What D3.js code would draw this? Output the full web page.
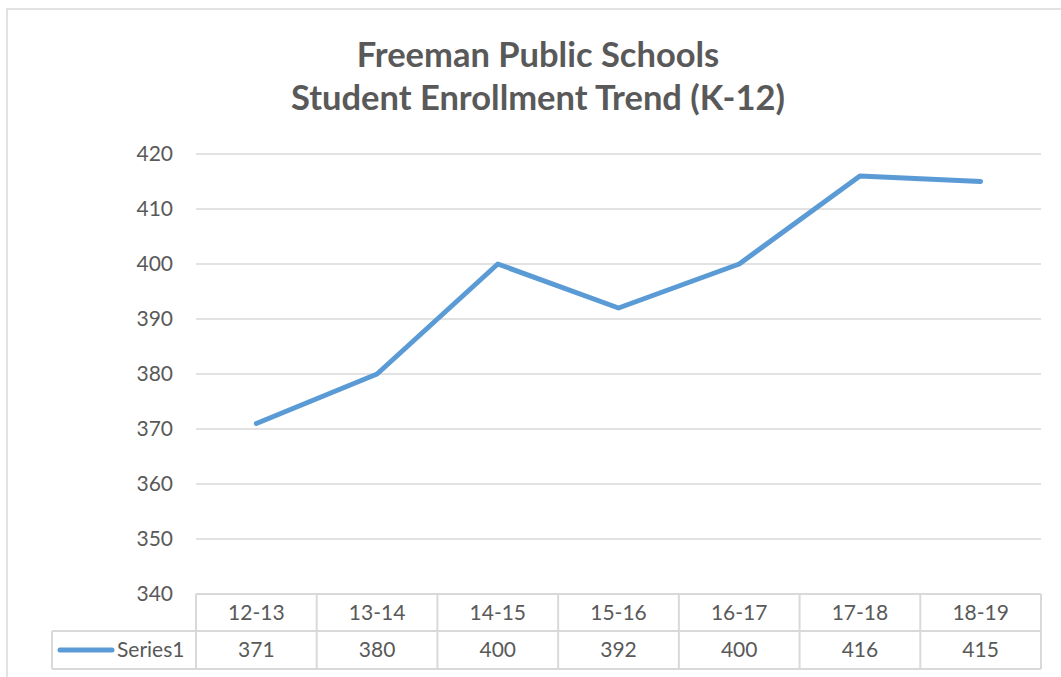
<!DOCTYPE html>
<html>
<head>
<meta charset="utf-8">
<title>Freeman Public Schools</title>
<style>
body { margin: 0; background: #fff; }
text { font-family: Lato, "Open Sans", sans-serif; fill: #595959; }
.grid line { stroke: #d9d9d9; stroke-width: 1.5; }
.tbl line { stroke: #d9d9d9; stroke-width: 2; }
</style>
</head>
<body>
<script src="https://cdn.jsdelivr.net/npm/d3@7"></script>
<script>
var years = ["12-13", "13-14", "14-15", "15-16", "16-17", "17-18", "18-19"];
var enrollment = [371, 380, 400, 392, 400, 416, 415];
var yTicks = [340, 350, 360, 370, 380, 390, 400, 410, 420];
var seriesName = "Series1";
var titleLines = ["Freeman Public Schools", "Student Enrollment Trend (K-12)"];

var width = 1061, height = 677;
var svg = d3.select("body").append("svg")
	.attr("width", width)
	.attr("height", height);

// chart frame
svg.append("rect")
	.attr("x", 7).attr("y", 9)
	.attr("width", 1080).attr("height", 700)
	.attr("fill", "#fff")
	.attr("stroke", "#d9d9d9")
	.attr("stroke-width", 1.5);

var x = d3.scaleBand().domain(years).range([196, 1041]);
var y = d3.scaleLinear().domain([340, 420]).range([594, 154]);

// title
svg.selectAll(".title")
	.data(titleLines)
	.enter()
	.append("text")
	.attr("class", "title")
	.attr("x", 538)
	.attr("y", function(d, i) { return 67 + i * 43; })
	.attr("text-anchor", "middle")
	.attr("font-size", "34.5px")
	.attr("font-weight", "bold")
	.text(function(d) { return d; });

// gridlines
var grid = svg.append("g").attr("class", "grid");
grid.selectAll("line")
	.data(yTicks.slice(1))
	.enter()
	.append("line")
	.attr("x1", 196).attr("x2", 1041)
	.attr("y1", function(d) { return y(d); })
	.attr("y2", function(d) { return y(d); });

// y axis labels
var axisY = d3.axisLeft(y).tickValues(yTicks).tickSize(0).tickPadding(0);
var gy = svg.append("g")
	.attr("transform", "translate(173,0)")
	.call(axisY);
gy.select(".domain").remove();
gy.selectAll("text")
	.attr("font-size", "21px")
	.attr("font-family", "Lato, sans-serif")
	.attr("fill", "#595959");

// line
var line = d3.line()
	.x(function(d, i) { return x(years[i]) + x.bandwidth() / 2; })
	.y(function(d) { return y(d); });
svg.append("path")
	.datum(enrollment)
	.attr("d", line)
	.attr("fill", "none")
	.attr("stroke", "#5b9bd5")
	.attr("stroke-width", 5)
	.attr("stroke-linecap", "round")
	.attr("stroke-linejoin", "round");

// data table
var rowTop = 594, rowMid = 631, rowBot = 669, legLeft = 52;
var tbl = svg.append("g").attr("class", "tbl");
tbl.append("line").attr("x1", 196).attr("x2", 1041).attr("y1", rowTop).attr("y2", rowTop);
tbl.append("line").attr("x1", legLeft).attr("x2", 1041).attr("y1", rowMid).attr("y2", rowMid);
tbl.append("line").attr("x1", legLeft).attr("x2", 1041).attr("y1", rowBot).attr("y2", rowBot);
tbl.append("line").attr("x1", legLeft).attr("x2", legLeft).attr("y1", rowMid).attr("y2", rowBot);
var edges = years.map(function(d) { return x(d); }).concat([1041]);
tbl.selectAll(".col")
	.data(edges)
	.enter()
	.append("line")
	.attr("class", "col")
	.attr("x1", function(d) { return d; })
	.attr("x2", function(d) { return d; })
	.attr("y1", rowTop).attr("y2", rowBot);

svg.selectAll(".cat")
	.data(years)
	.enter()
	.append("text")
	.attr("class", "cat")
	.attr("x", function(d) { return x(d) + x.bandwidth() / 2; })
	.attr("y", 620)
	.attr("text-anchor", "middle")
	.attr("font-size", "21px")
	.text(function(d) { return d; });

svg.selectAll(".val")
	.data(enrollment)
	.enter()
	.append("text")
	.attr("class", "val")
	.attr("x", function(d, i) { return x(years[i]) + x.bandwidth() / 2; })
	.attr("y", 657)
	.attr("text-anchor", "middle")
	.attr("font-size", "21px")
	.text(function(d) { return d; });

// legend key
svg.append("line")
	.attr("x1", 60).attr("x2", 112)
	.attr("y1", 650).attr("y2", 650)
	.attr("stroke", "#5b9bd5")
	.attr("stroke-width", 5)
	.attr("stroke-linecap", "round");
svg.append("text")
	.attr("x", 117)
	.attr("y", 657)
	.attr("font-size", "21px")
	.text(seriesName);
</script>
</body>
</html>
